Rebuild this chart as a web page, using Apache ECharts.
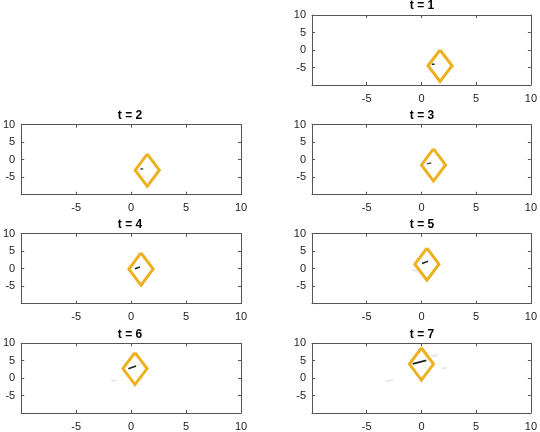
<!DOCTYPE html>
<html>
<head>
<meta charset="utf-8">
<script src="https://cdn.jsdelivr.net/npm/echarts@6/dist/echarts.min.js"></script>
<style>
  html, body { margin: 0; padding: 0; background: #fff; }
  #chart { width: 540px; height: 432px; }
</style>
</head>
<body>
<div id="chart"></div>
<script>
// frame titles
const frames = ["t = 1", "t = 2", "t = 3", "t = 4", "t = 5", "t = 6", "t = 7"];
// diamond centres per frame
const centerX = [1.7, 1.47, 1.1, 0.9, 0.5, 0.35, 0.0];
const centerY = [-4.5, -3.0, -1.5, -0.1, 1.3, 2.75, 4.05];
// diamond half sizes (data units)
const halfW = [1.1, 1.1, 1.1, 1.1, 1.1, 1.1, 1.1];
const halfH = [4.5, 4.6, 4.6, 4.6, 4.6, 4.6, 4.6];
// dark particle streaks, one segment per frame [x1, y1, x2, y2]
const darkStreaks = [
  [0.95, -4.05, 1.2, -4.05],
  [0.85, -2.7, 1.1, -2.6],
  [0.5, -1.15, 0.9, -0.95],
  [0.35, 0.0, 0.8, 0.5],
  [0.05, 1.5, 0.6, 2.1],
  [-0.25, 2.7, 0.45, 3.5],
  [-0.8, 4.1, 0.45, 5.1]
];
// faint particle streaks, list of segments per frame
const faintStreaks = [
  [],
  [],
  [],
  [],
  [[-0.85, -0.5, -0.25, -0.5]],
  [[-1.8, -0.85, -1.3, -0.5], [0.5, 3.6, 0.75, 4.05]],
  [[-3.3, -0.95, -2.6, -0.5], [0.95, 6.2, 1.55, 6.7], [1.85, 2.65, 2.3, 3.1]]
];
// tick labels
const tickVals = [-5, 0, 5, 10];

const gridLeft = [19, 312];
const gridWidth = [222, 220];
const gridTop = [15, 124.7, 233.7, 343.3];
const gridHeight = 70;

const axisColor = "#555";
const diamondColor = "#EDB120";

let grids = [], xAxes = [], yAxes = [], series = [], titles = [];

function labelFmt(v) {
  return tickVals.indexOf(v) >= 0 ? String(v) : "";
}

frames.forEach(function (name, i) {
  let slot = i + 1;
  let row = Math.floor(slot / 2);
  let col = slot % 2;
  let left = gridLeft[col];
  let top = gridTop[row];
  grids.push({ left: left, top: top, width: gridWidth[col], height: gridHeight, containLabel: false });
  titles.push({
    text: name,
    left: left + gridWidth[col] / 2,
    top: top - 15,
    textAlign: "center",
    padding: 0,
    textStyle: { fontFamily: "Liberation Sans, Arial, sans-serif", fontSize: 12, fontWeight: "bold", color: "#000" }
  });
  let common = {
    type: "value",
    min: -10,
    max: 10,
    interval: 5,
    gridIndex: i,
    splitLine: { show: false },
    axisLine: { show: true, onZero: false, lineStyle: { color: axisColor, width: 1 } },
    axisTick: { show: true, inside: true, length: 3, lineStyle: { color: axisColor } }
  };
  let labelStyle = {
    fontFamily: "Liberation Sans, Arial, sans-serif",
    fontSize: 11,
    color: "#222",
    formatter: labelFmt,
    showMinLabel: true,
    showMaxLabel: true
  };
  xAxes.push(Object.assign({}, common, { position: "bottom", axisLabel: Object.assign({ margin: 8 }, labelStyle) }));
  xAxes.push(Object.assign({}, common, { position: "top", axisLabel: { show: false } }));
  yAxes.push(Object.assign({}, common, { position: "left", axisLabel: Object.assign({ margin: 6 }, labelStyle) }));
  yAxes.push(Object.assign({}, common, { position: "right", axisLabel: { show: false } }));

  let cx = centerX[i], cy = centerY[i], w = halfW[i], h = halfH[i];
  series.push({
    type: "line",
    xAxisIndex: 2 * i,
    yAxisIndex: 2 * i,
    showSymbol: false,
    silent: true,
    lineStyle: { color: diamondColor, width: 3, join: "miter" },
    data: [[cx, cy + h], [cx + w, cy], [cx, cy - h], [cx - w, cy], [cx, cy + h]],
    z: 3
  });
  let d = darkStreaks[i];
  series.push({
    type: "line",
    xAxisIndex: 2 * i,
    yAxisIndex: 2 * i,
    showSymbol: false,
    silent: true,
    lineStyle: { color: i === 1 || i === 2 ? "#555" : "#222", width: 1.6 },
    data: [[d[0], d[1]], [d[2], d[3]]],
    z: 2
  });
  faintStreaks[i].forEach(function (f) {
    series.push({
      type: "line",
      xAxisIndex: 2 * i,
      yAxisIndex: 2 * i,
      showSymbol: false,
      silent: true,
      lineStyle: { color: "#e8e8e8", width: 2 },
      data: [[f[0], f[1]], [f[2], f[3]]],
      z: 1
    });
  });
});

let myChart = echarts.init(document.getElementById("chart"));
myChart.setOption({
  animation: false,
  backgroundColor: "#fff",
  title: titles,
  grid: grids,
  xAxis: xAxes,
  yAxis: yAxes,
  series: series
});
</script>
</body>
</html>
